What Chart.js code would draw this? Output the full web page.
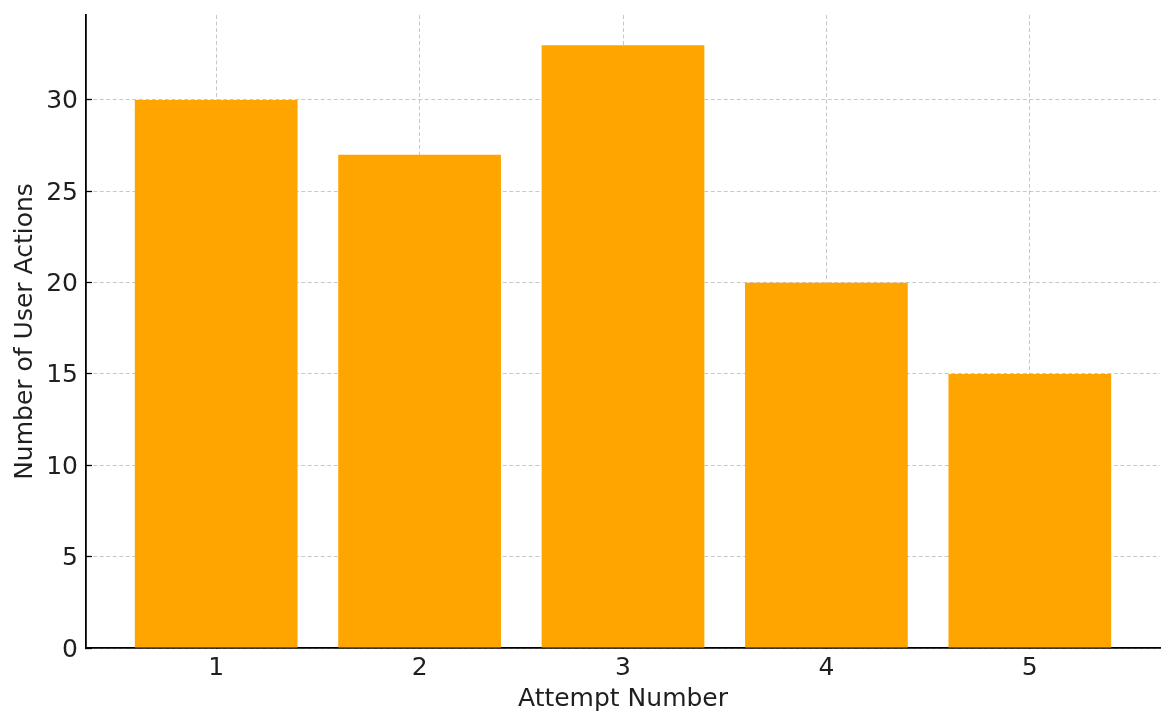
<!DOCTYPE html>
<html>
<head>
<meta charset="utf-8">
<script src="https://cdn.jsdelivr.net/npm/chart.js@4"></script>
<style>
  html, body { margin: 0; padding: 0; background: #fff; }
  #wrap { width: 1175px; height: 728px; }
</style>
</head>
<body>
<div id="wrap"><canvas id="grafico"></canvas></div>
<script>
const tentativas = [1, 2, 3, 4, 5];
const acoes = [30, 27, 33, 20, 15];
const ticksY = [0, 5, 10, 15, 20, 25, 30];

const fonte = { family: "DejaVu Sans", size: 25 };
const corTexto = "#1f1f1f";
const corGrade = "rgba(176, 176, 176, 0.7)";

const ctx = document.getElementById("grafico");

new Chart(ctx, {
    type: "bar",
    data: {
        datasets: [
            {
                label: "Number of User Actions",
                data: tentativas.map((t, i) => ({ x: t, y: acoes[i] })),
                backgroundColor: "#FFA500",
                borderWidth: 0,
                barPercentage: 0.8,
                categoryPercentage: 1,
            },
        ],
    },
    options: {
        responsive: true,
        maintainAspectRatio: false,
        animation: false,
        layout: {
            padding: { left: 0, right: 15, top: 15, bottom: 0 },
        },
        plugins: {
            legend: { display: false },
            tooltip: { enabled: false },
        },
        scales: {
            x: {
                type: "linear",
                min: 0.36,
                max: 5.64,
                offset: false,
                z: 1,
                afterBuildTicks: (s) => { s.ticks = tentativas.map((v) => ({ value: v })); },
                afterFit: (s) => { s.height = 80; s.paddingLeft = 0; s.paddingRight = 0; },
                ticks: { color: corTexto, font: fonte, padding: 11, maxRotation: 0 },
                grid: {
                    offset: false,
                    color: corGrade,
                    lineWidth: 1,
                    tickColor: "#000",
                    tickWidth: 1.3,
                    tickLength: -6, // marcas para dentro
                    tickBorderDash: [],
                },
                border: { color: "#000", width: 1.8, dash: [4, 2.5] },
                title: {
                    display: true,
                    text: "Attempt Number",
                    color: corTexto,
                    font: fonte,
                    padding: { top: 0, bottom: 14 },
                },
            },
            y: {
                min: 0,
                max: 34.65,
                z: 1,
                afterBuildTicks: (s) => { s.ticks = ticksY.map((v) => ({ value: v })); },
                afterFit: (s) => { s.width = 86; s.paddingTop = 0; s.paddingBottom = 0; },
                ticks: { color: corTexto, font: fonte, padding: 14, labelOffset: 2 },
                grid: {
                    color: corGrade,
                    lineWidth: 1,
                    tickColor: "#000",
                    tickWidth: 1.3,
                    tickLength: -6,
                    tickBorderDash: [],
                },
                border: { color: "#000", width: 1.8, dash: [4, 2.5] },
                title: {
                    display: true,
                    text: "Number of User Actions",
                    color: corTexto,
                    font: fonte,
                    padding: { top: 10, bottom: 0 },
                },
            },
        },
    },
});
</script>
</body>
</html>
